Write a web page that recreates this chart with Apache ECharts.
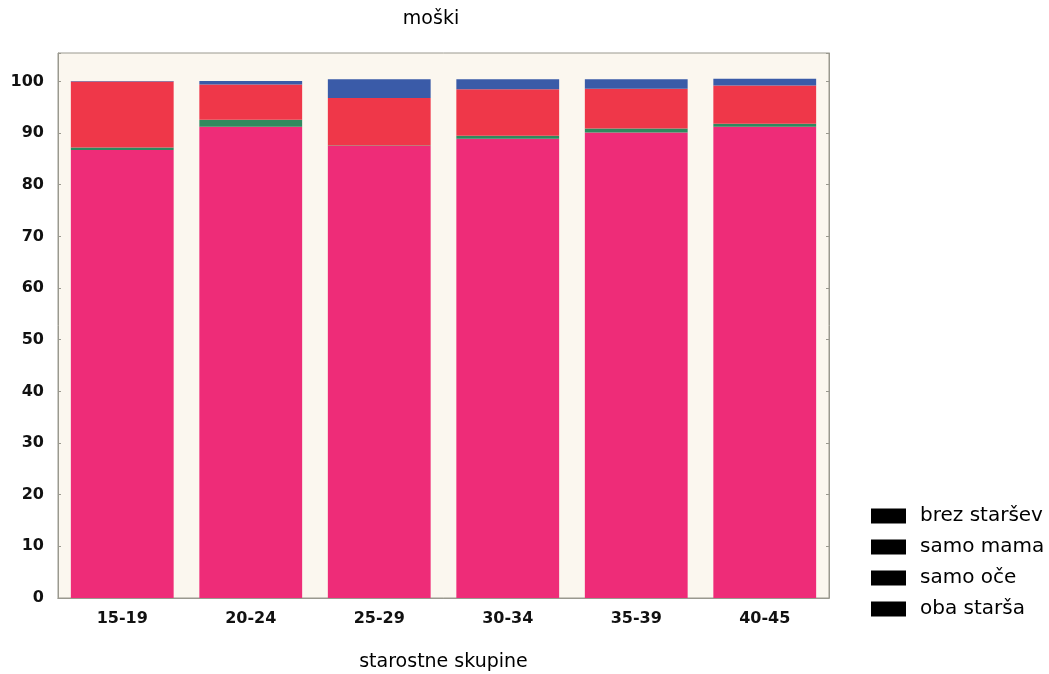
<!DOCTYPE html>
<html><head><meta charset="utf-8">
<script src="https://cdn.jsdelivr.net/npm/echarts@6/dist/echarts.min.js"></script>
<style>html,body{margin:0;padding:0;background:#fff}#c{width:1049px;height:674px}</style>
</head><body><div id="c"></div>
<script>
const categories = ['15-19', '20-24', '25-29', '30-34', '35-39', '40-45'];
const obaStarsa = [86.7, 91.2, 87.5, 88.9, 90.1, 91.2];
const samoOce = [0.5, 1.4, 0.1, 0.6, 0.8, 0.6];
const samoMama = [12.8, 6.8, 9.2, 9.0, 7.7, 7.4];
const brezStarsev = [0.1, 0.7, 3.6, 1.9, 1.8, 1.3];
const yTicks = [0, 10, 20, 30, 40, 50, 60, 70, 80, 90, 100];
const legendOrder = ['brez staršev', 'samo mama', 'samo oče', 'oba starša'];

const font = 'DejaVu Sans, Liberation Sans, sans-serif';
const chart = echarts.init(document.getElementById('c'));
const mk = (name, data, color) => ({
  name, type: 'bar', stack: 'a', data, barCategoryGap: '20%',
  itemStyle: { color }, emphasis: { disabled: true }
});
chart.setOption({
  animation: false,
  backgroundColor: '#ffffff',
  title: { text: 'moški', left: 426, top: 5, textAlign: 'center',
    textStyle: { fontFamily: font, fontSize: 19, fontWeight: 'normal', color: '#000' } },
  grid: { left: 58, top: 53, right: 220, bottom: 76, show: true,
    outerBoundsMode: 'none', containLabel: false,
    backgroundColor: '#fbf7ef', borderColor: '#9a998f', borderWidth: 1 },
  legend: {
    data: legendOrder, orient: 'vertical', left: 866, top: 501,
    itemWidth: 35, itemHeight: 15, itemGap: 11, icon: 'rect',
    itemStyle: { color: '#000' },
    textStyle: { fontFamily: font, fontSize: 20, color: '#000', padding: [0, 0, 0, 9] }
  },
  xAxis: [{
    type: 'category', data: categories, position: 'bottom',
    axisLine: { lineStyle: { color: '#9a998f' } },
    axisTick: { inside: true, length: 3, lineStyle: { color: '#9a998f' } },
    axisLabel: { fontFamily: font, fontSize: 16, fontWeight: 'bold', color: '#111', margin: 13 },
    name: 'starostne skupine', nameLocation: 'middle', nameGap: 55,
    nameTextStyle: { fontFamily: font, fontSize: 19, color: '#000' }
  }, {
    type: 'category', data: categories, position: 'top',
    axisLine: { lineStyle: { color: '#9a998f' } },
    axisTick: { inside: true, length: 3, lineStyle: { color: '#9a998f' } },
    axisLabel: { show: false }
  }],
  yAxis: [{
    type: 'value', min: 0, max: 105.5, interval: 10, position: 'left',
    splitLine: { show: false },
    axisLine: { show: true, lineStyle: { color: '#9a998f' } },
    axisTick: { show: true, inside: true, length: 3, lineStyle: { color: '#9a998f' } },
    axisLabel: { fontFamily: font, fontSize: 16, fontWeight: 'bold', color: '#111', margin: 14,
      formatter: v => (yTicks.indexOf(v) >= 0 ? String(v) : '') }
  }, {
    type: 'value', min: 0, max: 105.5, interval: 10, position: 'right',
    splitLine: { show: false },
    axisLine: { show: true, lineStyle: { color: '#9a998f' } },
    axisTick: { show: true, inside: true, length: 3, lineStyle: { color: '#9a998f' } },
    axisLabel: { show: false }
  }],
  series: [
    mk('oba starša', obaStarsa, '#ee2c78'),
    mk('samo oče', samoOce, '#2e8a5e'),
    mk('samo mama', samoMama, '#ef3749'),
    mk('brez staršev', brezStarsev, '#3a5ba8')
  ]
});
</script></body></html>
